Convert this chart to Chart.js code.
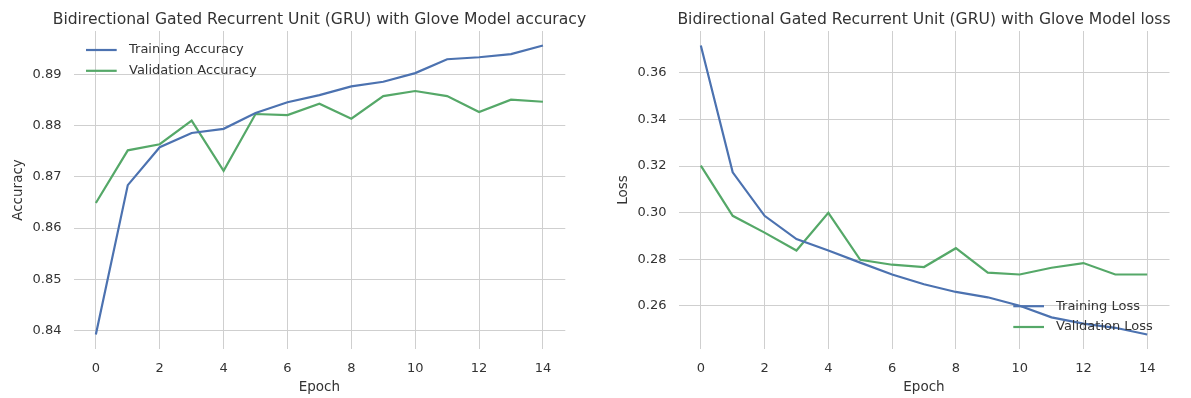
<!DOCTYPE html>
<html><head><meta charset="utf-8">
<script src="https://cdn.jsdelivr.net/npm/chart.js@4/dist/chart.umd.min.js"></script>
<style>
html,body{margin:0;padding:0;background:#fff;}
#wrap{position:relative;width:1191px;height:398px;overflow:hidden;background:#fff;}
.box{position:absolute;top:0;height:398px;}
#b1{left:0;width:596px;}
#b2{left:596px;width:595px;}
</style></head><body>
<div id="wrap">
  <div class="box" id="b1"><canvas id="c1"></canvas></div>
  <div class="box" id="b2"><canvas id="c2"></canvas></div>
</div>
<script>
// ---- data ----
const epochs = [0,1,2,3,4,5,6,7,8,9,10,11,12,13,14];
const trainAcc = [0.8392,0.8684,0.8758,0.8786,0.8794,0.8825,0.8846,0.8860,0.8877,0.8886,0.8903,0.8930,0.8934,0.8940,0.8957];
const valAcc   = [0.8649,0.8752,0.8764,0.8810,0.8712,0.8823,0.8821,0.8843,0.8814,0.8858,0.8868,0.8858,0.8827,0.8851,0.8847];
const trainLoss = [0.3718,0.3173,0.2986,0.2886,0.2837,0.2785,0.2734,0.2692,0.2659,0.2636,0.2600,0.2550,0.2523,0.2505,0.2476];
const valLoss   = [0.3202,0.2986,0.2914,0.2837,0.2999,0.2797,0.2776,0.2766,0.2847,0.2742,0.2734,0.2763,0.2783,0.2734,0.2734];
const xTicks = [0,2,4,6,8,10,12,14];
const accTicks = [0.84,0.85,0.86,0.87,0.88,0.89];
const lossTicks = [0.26,0.28,0.30,0.32,0.34,0.36];

// ---- styles ----
const FONT = '"DejaVu Sans", sans-serif';
const BLUE = '#4C72B0';
const GREEN = '#55A868';
const GRID = '#cfcfcf';
const TXT = '#333333';

// legend drawn inside the plot area (matplotlib style, no frame)
const insideLegend = {
  id: 'insideLegend',
  afterDatasetsDraw(chart, args, o) {
    const {ctx, chartArea: a} = chart;
    const x0 = o.corner === 'ul' ? a.left + o.dx : a.right + o.dx;
    const y0 = o.corner === 'ul' ? a.top + o.dy : a.bottom + o.dy;
    ctx.save();
    chart.data.datasets.forEach((ds, i) => {
      const y = y0 + i * o.row;
      ctx.strokeStyle = ds.borderColor;
      ctx.lineWidth = 2.2;
      ctx.beginPath(); ctx.moveTo(x0, y); ctx.lineTo(x0 + o.len, y); ctx.stroke();
      ctx.fillStyle = TXT;
      ctx.font = '13px ' + FONT;
      ctx.textBaseline = 'middle';
      ctx.textAlign = 'left';
      ctx.fillText(ds.label, x0 + o.len + o.gap, y);
    });
    ctx.restore();
  }
};

// title centred over the plot area, allowed to be wider than it
const plotTitle = {
  id: 'plotTitle',
  afterDraw(chart, args, o) {
    const {ctx, chartArea: a} = chart;
    ctx.save();
    ctx.fillStyle = TXT;
    ctx.font = o.size + 'px ' + FONT;
    ctx.textAlign = 'center';
    ctx.textBaseline = 'alphabetic';
    ctx.fillText(o.text, (a.left + a.right) / 2, o.baseline);
    ctx.restore();
  }
};

function makeChart(id, c) {
  const all = c.train.concat(c.val);
  const lo = Math.min(...all), hi = Math.max(...all);
  const m = (hi - lo) * 0.05;
  return new Chart(document.getElementById(id), {
    type: 'line',
    data: { datasets: [
      { label: c.labels[0], data: epochs.map((e, i) => ({x: e, y: c.train[i]})), borderColor: BLUE, backgroundColor: BLUE, borderWidth: 2.2, pointRadius: 0, tension: 0, fill: false },
      { label: c.labels[1], data: epochs.map((e, i) => ({x: e, y: c.val[i]})), borderColor: GREEN, backgroundColor: GREEN, borderWidth: 2.2, pointRadius: 0, tension: 0, fill: false }
    ]},
    options: {
      responsive: true, maintainAspectRatio: false, animation: false, devicePixelRatio: 1,
      events: [],
      layout: { padding: { left: 0, right: c.padRight, top: 31, bottom: 0 } },
      plugins: {
        legend: { display: false },
        tooltip: { enabled: false },
        title: { display: false },
        plotTitle: { text: c.title, size: 15.6, baseline: 24 },
        insideLegend: c.legend
      },
      scales: {
        x: {
          type: 'linear', min: -0.7, max: 14.7,
          afterBuildTicks: s => { s.ticks = xTicks.map(v => ({value: v})); },
          afterFit: s => { s.height = 49; },
          grid: { color: GRID, lineWidth: 1, drawTicks: false },
          border: { display: false },
          ticks: { padding: 11.5, color: TXT, font: { family: FONT, size: 13 }, callback: v => String(v) },
          title: { display: true, text: 'Epoch', color: TXT, font: { family: FONT, size: 13.5, lineHeight: 1.2 }, padding: { top: 0, bottom: 2.4 } }
        },
        y: {
          type: 'linear', min: lo - m, max: hi + m,
          afterBuildTicks: s => { s.ticks = c.yTicks.map(v => ({value: v})); },
          afterFit: s => { s.width = c.yWidth; },
          grid: { color: GRID, lineWidth: 1, drawTicks: false },
          border: { display: false },
          ticks: { padding: 12, color: TXT, font: { family: FONT, size: 13 }, callback: v => v.toFixed(2) },
          title: { display: true, text: c.yTitle, color: TXT, font: { family: FONT, size: 13.5, lineHeight: 1.2 }, padding: { top: c.yTitlePad, bottom: 0 } }
        }
      }
    },
    plugins: [insideLegend, plotTitle]
  });
}

makeChart('c1', {
  title: 'Bidirectional Gated Recurrent Unit (GRU) with Glove Model accuracy',
  labels: ['Training Accuracy', 'Validation Accuracy'],
  train: trainAcc, val: valAcc, yTicks: accTicks, yTitle: 'Accuracy',
  yWidth: 73.5, padRight: 30.7, yTitlePad: 10.5,
  legend: { corner: 'ul', dx: 12.5, dy: 19, row: 20.8, len: 30.7, gap: 12.3 }
});
makeChart('c2', {
  title: 'Bidirectional Gated Recurrent Unit (GRU) with Glove Model loss',
  labels: ['Training Loss', 'Validation Loss'],
  train: trainLoss, val: valLoss, yTicks: lossTicks, yTitle: 'Loss',
  yWidth: 82.5, padRight: 21.5, yTitlePad: 19.5,
  legend: { corner: 'br', dx: -156.2, dy: -42.8, row: 20.8, len: 30.7, gap: 12 }
});
</script>
</body></html>
